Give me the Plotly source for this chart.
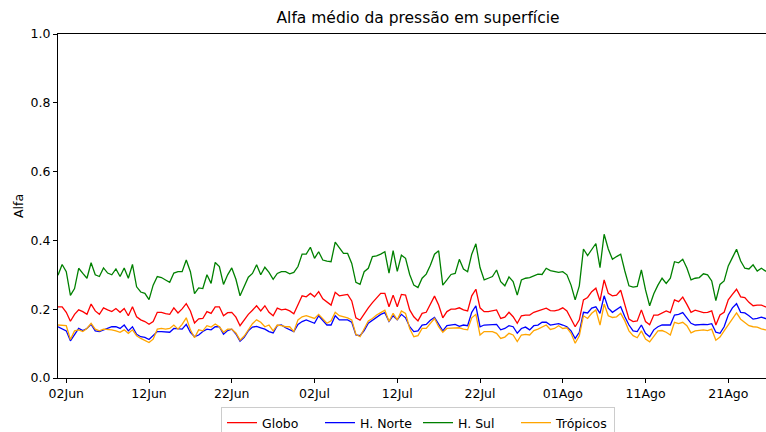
import pandas as pd
import plotly.graph_objects as go

# 12-hourly values, starting 01 Jun 00h
h_sul = [
    0.299, 0.330, 0.309, 0.240, 0.260, 0.319, 0.304, 0.290, 0.335, 0.300,
    0.295, 0.320, 0.305, 0.300, 0.317, 0.295, 0.320, 0.290, 0.330, 0.265,
    0.250, 0.246, 0.228, 0.270, 0.295, 0.292, 0.285, 0.278, 0.305,
    0.309, 0.309, 0.343, 0.309, 0.245, 0.262, 0.260, 0.300, 0.275, 0.336,
    0.324, 0.272, 0.300, 0.320, 0.287, 0.239, 0.265, 0.293, 0.304, 0.329,
    0.300, 0.322, 0.307, 0.287, 0.304, 0.309, 0.309, 0.303, 0.307,
    0.324, 0.360, 0.360, 0.380, 0.348, 0.367, 0.343, 0.340, 0.338, 0.395,
    0.380, 0.362, 0.362, 0.333, 0.278, 0.272, 0.309, 0.319, 0.353, 0.355,
    0.360, 0.367, 0.305, 0.370, 0.310, 0.357, 0.348, 0.301,
    0.270, 0.263, 0.290, 0.302, 0.328, 0.360, 0.370, 0.270, 0.285, 0.301,
    0.304, 0.345, 0.317, 0.309, 0.360, 0.390, 0.321, 0.285, 0.290, 0.295,
    0.314, 0.280, 0.268, 0.294, 0.280, 0.241, 0.285, 0.290, 0.292,
    0.297, 0.302, 0.301, 0.319, 0.312, 0.309, 0.307, 0.309, 0.300, 0.270,
    0.227, 0.268, 0.375, 0.356, 0.372, 0.391, 0.321, 0.418, 0.375, 0.345,
    0.353, 0.360, 0.311, 0.268, 0.264, 0.266, 0.314, 0.256,
    0.210, 0.245, 0.270, 0.290, 0.275, 0.290, 0.338, 0.335, 0.345, 0.320,
    0.285, 0.290, 0.292, 0.303, 0.300, 0.282, 0.225, 0.272, 0.282, 0.326,
    0.350, 0.374, 0.340, 0.319, 0.317, 0.329, 0.311, 0.319, 0.311, 0.310,
]
globo = [
    0.207, 0.207, 0.191, 0.165, 0.185, 0.198, 0.193, 0.185, 0.215, 0.195,
    0.185, 0.204, 0.198, 0.193, 0.202, 0.191, 0.202, 0.181, 0.207, 0.178,
    0.169, 0.164, 0.156, 0.164, 0.191, 0.191, 0.187, 0.185, 0.204,
    0.189, 0.201, 0.216, 0.195, 0.160, 0.172, 0.173, 0.193, 0.188, 0.207,
    0.207, 0.181, 0.190, 0.191, 0.177, 0.152, 0.169, 0.185, 0.197, 0.210,
    0.195, 0.210, 0.191, 0.181, 0.203, 0.198, 0.200, 0.195, 0.187,
    0.214, 0.239, 0.236, 0.246, 0.236, 0.251, 0.230, 0.220, 0.212, 0.249,
    0.239, 0.241, 0.243, 0.224, 0.175, 0.168, 0.188, 0.204, 0.219, 0.233,
    0.246, 0.246, 0.207, 0.241, 0.207, 0.243, 0.241, 0.198,
    0.178, 0.166, 0.188, 0.191, 0.217, 0.238, 0.212, 0.175, 0.193, 0.200,
    0.200, 0.204, 0.198, 0.195, 0.239, 0.258, 0.204, 0.193, 0.193, 0.195,
    0.198, 0.173, 0.177, 0.191, 0.178, 0.159, 0.181, 0.183, 0.183,
    0.191, 0.195, 0.200, 0.203, 0.196, 0.195, 0.198, 0.204, 0.195, 0.173,
    0.149, 0.169, 0.227, 0.234, 0.251, 0.261, 0.224, 0.285, 0.246, 0.239,
    0.241, 0.255, 0.212, 0.171, 0.164, 0.166, 0.198, 0.164,
    0.155, 0.183, 0.183, 0.188, 0.195, 0.190, 0.227, 0.222, 0.235, 0.214,
    0.191, 0.197, 0.193, 0.190, 0.191, 0.195, 0.154, 0.183, 0.191, 0.227,
    0.243, 0.258, 0.236, 0.234, 0.220, 0.210, 0.212, 0.212, 0.207, 0.207,
]
h_norte = [
    0.149, 0.144, 0.137, 0.108, 0.125, 0.144, 0.138, 0.144, 0.156, 0.137,
    0.135, 0.140, 0.146, 0.149, 0.149, 0.144, 0.154, 0.137, 0.149, 0.127,
    0.120, 0.118, 0.112, 0.123, 0.135, 0.135, 0.133, 0.133, 0.144,
    0.144, 0.142, 0.156, 0.133, 0.120, 0.125, 0.135, 0.142, 0.140, 0.149,
    0.149, 0.127, 0.138, 0.142, 0.128, 0.107, 0.118, 0.137, 0.148, 0.150,
    0.146, 0.142, 0.135, 0.131, 0.152, 0.154, 0.146, 0.140, 0.135,
    0.156, 0.164, 0.169, 0.164, 0.159, 0.181, 0.168, 0.154, 0.154, 0.181,
    0.169, 0.169, 0.169, 0.162, 0.125, 0.123, 0.138, 0.159, 0.168, 0.178,
    0.185, 0.190, 0.164, 0.181, 0.169, 0.185, 0.175, 0.149,
    0.135, 0.137, 0.154, 0.156, 0.168, 0.176, 0.156, 0.137, 0.152, 0.154,
    0.156, 0.150, 0.154, 0.152, 0.191, 0.210, 0.149, 0.154, 0.154, 0.154,
    0.156, 0.140, 0.144, 0.152, 0.149, 0.130, 0.144, 0.148, 0.140,
    0.152, 0.154, 0.162, 0.162, 0.154, 0.155, 0.158, 0.154, 0.149, 0.137,
    0.115, 0.133, 0.191, 0.189, 0.203, 0.207, 0.188, 0.239, 0.203, 0.191,
    0.198, 0.207, 0.178, 0.154, 0.137, 0.135, 0.154, 0.130,
    0.120, 0.140, 0.149, 0.154, 0.154, 0.154, 0.183, 0.185, 0.190, 0.175,
    0.159, 0.154, 0.156, 0.156, 0.155, 0.158, 0.133, 0.130, 0.149, 0.183,
    0.204, 0.216, 0.191, 0.189, 0.181, 0.171, 0.173, 0.177, 0.173, 0.172,
]
tropicos = [
    0.154, 0.154, 0.152, 0.112, 0.137, 0.140, 0.135, 0.144, 0.159, 0.142,
    0.137, 0.142, 0.142, 0.140, 0.137, 0.133, 0.140, 0.130, 0.140, 0.123,
    0.115, 0.108, 0.103, 0.113, 0.142, 0.144, 0.142, 0.144, 0.154,
    0.142, 0.156, 0.175, 0.140, 0.117, 0.140, 0.137, 0.152, 0.148, 0.157,
    0.149, 0.133, 0.142, 0.142, 0.131, 0.110, 0.122, 0.141, 0.158, 0.169,
    0.162, 0.149, 0.154, 0.137, 0.154, 0.152, 0.149, 0.149, 0.135,
    0.169, 0.178, 0.181, 0.178, 0.173, 0.185, 0.173, 0.159, 0.166, 0.191,
    0.181, 0.178, 0.175, 0.169, 0.127, 0.120, 0.144, 0.166, 0.173, 0.183,
    0.190, 0.197, 0.164, 0.188, 0.169, 0.195, 0.188, 0.144,
    0.120, 0.123, 0.144, 0.144, 0.159, 0.173, 0.149, 0.133, 0.144, 0.144,
    0.144, 0.146, 0.142, 0.140, 0.175, 0.185, 0.125, 0.135, 0.135, 0.135,
    0.130, 0.115, 0.119, 0.130, 0.125, 0.106, 0.125, 0.127, 0.125,
    0.138, 0.142, 0.148, 0.154, 0.141, 0.144, 0.152, 0.144, 0.146, 0.130,
    0.101, 0.123, 0.181, 0.173, 0.188, 0.198, 0.154, 0.215, 0.181, 0.176,
    0.178, 0.188, 0.166, 0.137, 0.123, 0.117, 0.137, 0.113,
    0.105, 0.122, 0.137, 0.138, 0.133, 0.125, 0.162, 0.158, 0.162, 0.152,
    0.131, 0.137, 0.138, 0.140, 0.138, 0.142, 0.110, 0.119, 0.137, 0.154,
    0.173, 0.189, 0.171, 0.161, 0.152, 0.149, 0.148, 0.143, 0.140, 0.140,
]

tick_dates = ["2020-06-02", "2020-06-12", "2020-06-22", "2020-07-02", "2020-07-12",
              "2020-07-22", "2020-08-01", "2020-08-11", "2020-08-21"]
tick_text = ["02Jun", "12Jun", "22Jun", "02Jul", "12Jul",
             "22Jul", "01Ago", "11Ago", "21Ago"]

series = [("Globo", globo, "#ff0000"),
          ("H. Norte", h_norte, "#0000ff"),
          ("H. Sul", h_sul, "#008000"),
          ("Trópicos", tropicos, "#ffa500")]

start = pd.Timestamp("2020-06-01 00:00")
FONT = "DejaVu Sans"

fig = go.Figure()
for name, vals, color in series:
    t = pd.date_range(start, periods=len(vals), freq="12h")
    fig.add_trace(go.Scatter(x=t, y=vals, mode="lines", name=name,
                             line=dict(color=color, width=1.3)))

x_end = start + pd.Timedelta(days=85.56)

fig.update_layout(
    width=766, height=432,
    margin=dict(l=58, r=0, t=34, b=54, autoexpand=False),
    paper_bgcolor="white", plot_bgcolor="white",
    font=dict(family=FONT, size=12.5, color="black"),
    title=dict(text="Alfa médio da pressão em superfície", xref="container",
               x=418 / 766, xanchor="center", y=1 - 18 / 432, yanchor="middle",
               font=dict(family=FONT, size=15.5, color="black")),
    showlegend=True,
    legend=dict(orientation="h", xref="paper", x=(418 - 58) / 708,
                xanchor="center", yref="paper", y=-(407 - 378) / 344,
                yanchor="top", bordercolor="#cccccc", borderwidth=1,
                bgcolor="white", font=dict(family=FONT, size=12.5),
                entrywidth=53, itemwidth=30),
)
fig.update_xaxes(range=[start, x_end], tickvals=pd.to_datetime(tick_dates),
                 ticktext=tick_text, showgrid=False, zeroline=False,
                 showline=True, linecolor="black", linewidth=1, mirror=True,
                 ticks="outside", ticklen=4, tickcolor="black",
                 tickfont=dict(family=FONT, size=12.5))
fig.update_yaxes(range=[0, 1], tickvals=[0, 0.2, 0.4, 0.6, 0.8, 1.0],
                 ticktext=["0.0", "0.2", "0.4", "0.6", "0.8", "1.0"],
                 showgrid=False, zeroline=False, showline=True,
                 linecolor="black", linewidth=1, ticks="outside", ticklen=4,
                 tickcolor="black", tickfont=dict(family=FONT, size=12.5))
fig.add_annotation(text="Alfa", xref="paper", yref="paper",
                   x=(18 - 58) / 708, y=0.5, textangle=-90, showarrow=False,
                   xanchor="center", yanchor="middle",
                   font=dict(family=FONT, size=12.5, color="black"))

# the page's default body margin shifts the figure; remove it and re-apply size
post = ("document.body.style.margin='0';"
        "document.body.style.overflow='hidden';"
        "var gd=document.getElementById('{plot_id}');"
        "Plotly.relayout(gd,{width:766,height:432});")
fig.write_html("out.html", post_script=post,
               config={"responsive": False, "displayModeBar": False})
